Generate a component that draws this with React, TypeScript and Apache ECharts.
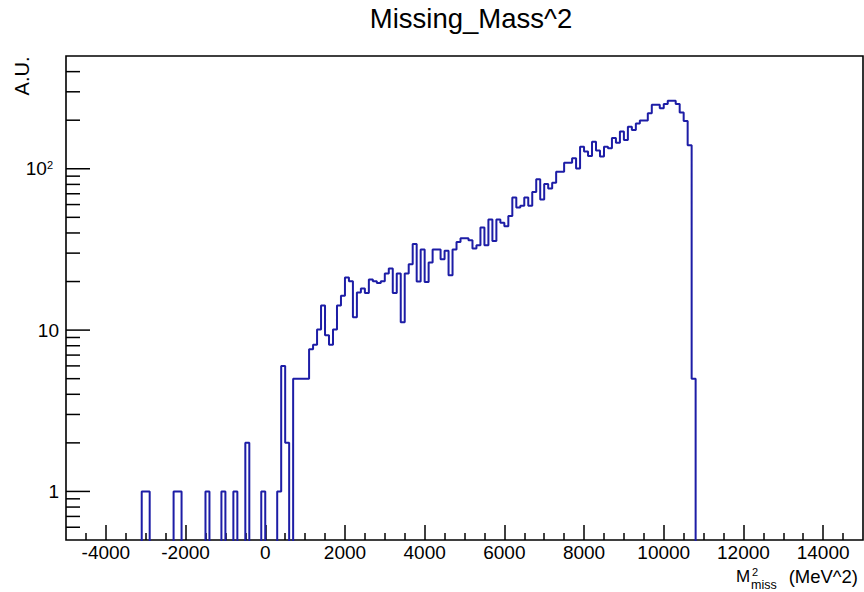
import React, { useEffect, useRef } from "react";
import * as echarts from "echarts";

const FONT = '"Liberation Sans", Arial, Helvetica, sans-serif';

// Histogram binning (MeV^2)
const binStart = -5000;
const binEnd = 15000;
const binWidth = 100;

// sparse low-mass bins: lower edge and content
const sparseBinLowEdges = [-3100, -3000, -2300, -2200, -1500, -1100, -800, -500, -100, 300, 400, 500];
const sparseBinCounts = [1, 1, 1, 1, 1, 1, 1, 2, 1, 1, 6, 2];

// dense region, consecutive bins starting at mainStart
const mainStart = 700;
const mainCounts = [
  5, 5, 5, 5, 7.6, 8.1, 10.1, 14.2, 9.3, 8.1,
  10.1, 14.2, 16.3, 21.2, 20.1, 12.0, 17.1, 18.1, 17.0, 20.6,
  20.1, 19.6, 20.1, 22.4, 24.1, 17.0, 22.4, 11.2, 22.4, 25.6,
  34.2, 20.0, 31.6, 19.9, 26.2, 31.6, 31.6, 27.5, 31.0, 21.9,
  31.6, 35.2, 37.1, 37.1, 36.1, 32.0, 33.6, 43.3, 33.6, 48.5,
  35.7, 48.5, 46.2, 44.1, 50.9, 66.4, 57.5, 58.9, 66.4, 58.9,
  71.9, 86.0, 64.6, 80.4, 75.5, 81.9, 95.8, 95.8, 109, 109,
  116, 100.5, 137, 128, 120, 147, 130, 119, 137, 134,
  155, 145, 170, 151, 182, 174, 191, 199, 199, 221,
  249, 249, 237, 252, 264, 264, 252, 223, 198, 140,
  5,
];

const xMajorTicks = [-4000, -2000, 0, 2000, 4000, 6000, 8000, 10000, 12000, 14000];
const xMinorTicks = [-4500, -3500, -3000, -2500, -1500, -1000, -500, 500, 1000, 1500, 2500, 3000, 3500, 4500, 5000, 5500, 6500, 7000, 7500, 8500, 9000, 9500, 10500, 11000, 11500, 12500, 13000, 13500, 14500];
const yMajorTicks = [1, 10, 100];
const yMinorTicks = [0.6, 0.7, 0.8, 0.9, 2, 3, 4, 5, 6, 7, 8, 9, 20, 30, 40, 50, 60, 70, 80, 90, 200, 300, 400];

const yMin = 0.5;
const yMax = 500;
const EMPTY = 0.01; // below axis min, clipped away

function buildHistogram(): number[][] {
  const nBins = Math.round((binEnd - binStart) / binWidth);
  const counts: number[] = new Array(nBins).fill(0);
  sparseBinLowEdges.forEach((e, i) => {
    counts[Math.round((e - binStart) / binWidth)] = sparseBinCounts[i];
  });
  mainCounts.forEach((c, i) => {
    counts[Math.round((mainStart - binStart) / binWidth) + i] = c;
  });
  const pts: number[][] = counts.map((c, i) => [binStart + i * binWidth, c > 0 ? c : EMPTY]);
  pts.push([binEnd, EMPTY]);
  return pts;
}

export default function App() {
  const ref = useRef<HTMLDivElement>(null);
  useEffect(() => {
    const el = ref.current;
    if (!el) return;
    const chart = echarts.init(el, undefined, { renderer: "svg" });

    const gridLeft = 66;
    const gridTop = 56;
    const gridW = 797;
    const gridH = 484;

    const txt = (text: string, x: number, y: number, fontSize: number, align: string, extra: any = {}) => ({
      type: "text", x, y, ...extra,
      style: { text, fontSize, fontFamily: FONT, fill: "#000", align, verticalAlign: "middle", textAlign: align, textVerticalAlign: "middle" },
    });

    const texts: any[] = [
      txt("Missing_Mass^2", 471, 18.5, 27.5, "center"),
      txt("A.U.", 22, 76, 20, "center", { rotation: Math.PI / 2 }),
      txt("M", 736, 576.5, 17, "left"),
      txt("2", 752, 571.5, 11, "left"),
      txt("miss", 751, 585, 12.5, "left"),
      txt("(MeV^2)", 858, 576.5, 18.5, "right"),
    ];

    const base: any = {
      animation: false,
      backgroundColor: "#fff",
      grid: {
        left: gridLeft, top: gridTop, width: gridW, height: gridH,
        show: true, borderColor: "#000", borderWidth: 1.6, backgroundColor: "transparent",
      },
      xAxis: [
        {
          type: "value", min: binStart, max: binEnd, position: "bottom",
          axisLine: { show: false }, splitLine: { show: false },
          axisTick: { show: true, inside: true, length: 15, customValues: xMajorTicks, lineStyle: { color: "#000", width: 1.5 } },
          axisLabel: {
            customValues: xMajorTicks, fontSize: 19, fontFamily: FONT, color: "#000", margin: 3,
            formatter: (v: number) => String(Math.round(v)),
          },
        },
        {
          type: "value", min: binStart, max: binEnd, position: "bottom",
          axisLine: { show: false }, splitLine: { show: false },
          axisTick: { show: true, inside: true, length: 7, customValues: xMinorTicks, lineStyle: { color: "#000", width: 1.5 } },
          axisLabel: { show: false },
        },
      ],
      yAxis: {
        type: "log", logBase: 10, min: yMin, max: yMax, position: "left",
        axisLine: { show: false }, splitLine: { show: false }, axisTick: { show: false },
        axisLabel: {
          fontSize: 19, fontFamily: FONT, color: "#000", margin: 7,
          formatter: (v: number) => {
            const l = Math.log10(v);
            if (Math.abs(l - Math.round(l)) > 1e-6 || v < 1) return "";
            const r = Math.round(v);
            if (r === 100) return "{b|10}{s|2}";
            return String(r);
          },
          rich: {
            b: { fontSize: 19, fontFamily: FONT, color: "#000" },
            s: { fontSize: 11, fontFamily: FONT, color: "#000", verticalAlign: "top", padding: [0, 6, 0, 0] },
          },
        },
      },
      series: [
        {
          type: "line", step: "end", data: buildHistogram(), showSymbol: false, symbol: "none",
          clip: true, lineStyle: { color: "#1d1da6", width: 2 },
        },
      ],
      graphic: texts,
    };

    chart.setOption(base);

    const ticks: any[] = [];
    const x0 = chart.convertToPixel({ xAxisIndex: 0 }, binStart) as number;
    yMajorTicks.forEach((v) => {
      const y = chart.convertToPixel({ yAxisIndex: 0 }, v) as number;
      ticks.push({ type: "line", shape: { x1: x0, y1: y, x2: x0 + 24, y2: y }, style: { stroke: "#000", lineWidth: 1.5 }, silent: true });
    });
    yMinorTicks.forEach((v) => {
      const y = chart.convertToPixel({ yAxisIndex: 0 }, v) as number;
      ticks.push({ type: "line", shape: { x1: x0, y1: y, x2: x0 + 14, y2: y }, style: { stroke: "#000", lineWidth: 1.5 }, silent: true });
    });

    chart.setOption({ ...base, graphic: [...texts, ...ticks] }, true);

    return () => chart.dispose();
  }, []);
  return <div ref={ref} style={{ position: "absolute", left: 0, top: 0, width: 864, height: 592, background: "#fff" }} />;
}
